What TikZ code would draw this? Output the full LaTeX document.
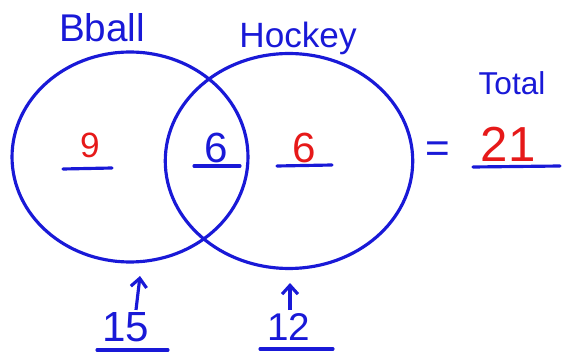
\documentclass[tikz,border=0pt]{standalone}
\usepackage{fontspec}
\setmainfont{Liberation Sans}
\usetikzlibrary{shapes.geometric,arrows.meta}
\definecolor{pen}{RGB}{25,25,215}
\definecolor{redpen}{RGB}{230,25,25}
\begin{document}
\begin{tikzpicture}[x=0.02cm,y=-0.02cm,
  ring/.style={draw=pen,line width=1.8pt,ellipse,inner sep=0pt},
  lbl/.style={text=pen,inner sep=0pt},
  num/.style={inner sep=0pt,font=\fontsize{20}{24}\selectfont},
  uline/.style={draw=pen,line width=1.8pt,line cap=round},
  upar/.style={draw=pen,line width=1.8pt,-{Straight Barb[length=5pt,width=9pt]}}]
\useasboundingbox (0,0) rectangle (567,354);
% circles
\node[ring,minimum width=4.72cm,minimum height=4.2cm] (ball) at (130,157) {};
\node[ring,minimum width=4.95cm,minimum height=4.3cm] (hock) at (289,161) {};
% titles
\node[lbl,font=\fontsize{22}{26}\selectfont] (tb) at (102,28) {Bball};
\node[lbl,font=\fontsize{20}{24}\selectfont] (th) at (298,38) {Hockey};
\node[lbl,font=\fontsize{18}{22}\selectfont] (tt) at (512,83) {Total};
% region numbers
\node[num,text=redpen] (n9) at (90,145) {9};
\node[num,text=pen,font=\fontsize{24}{28}\selectfont] (n6a) at (216,148) {6};
\node[num,text=redpen,font=\fontsize{24}{28}\selectfont] (n6b) at (304,148) {6};
\draw[uline] (63,169) -- (112,168);
\draw[uline] (194,166) -- (240,166);
\draw[uline] (277,166) -- (332,165);
% equals and total
\node[lbl,font=\fontsize{24}{28}\selectfont] (eq) at (438,152) {=};
\node[num,text=redpen,font=\fontsize{28}{32}\selectfont] (n21) at (508,144) {21};
\draw[uline] (473,167) -- (560,166);
% bottom totals
\node[lbl,font=\fontsize{24}{28}\selectfont] (n15) at (126,327) {15};
\node[lbl,font=\fontsize{22}{26}\selectfont] (n12) at (289,327) {12};
\draw[uline] (97,350) -- (168,350);
\draw[uline] (260,349) -- (333,349);
\coordinate (a1) at (140,276);
\coordinate (a2) at (290,283);
\draw[upar] (n15.north) ++(10,-2) -- (a1);
\draw[upar] (n12.north) ++(1,-3) -- (a2);
\end{tikzpicture}
\end{document}
